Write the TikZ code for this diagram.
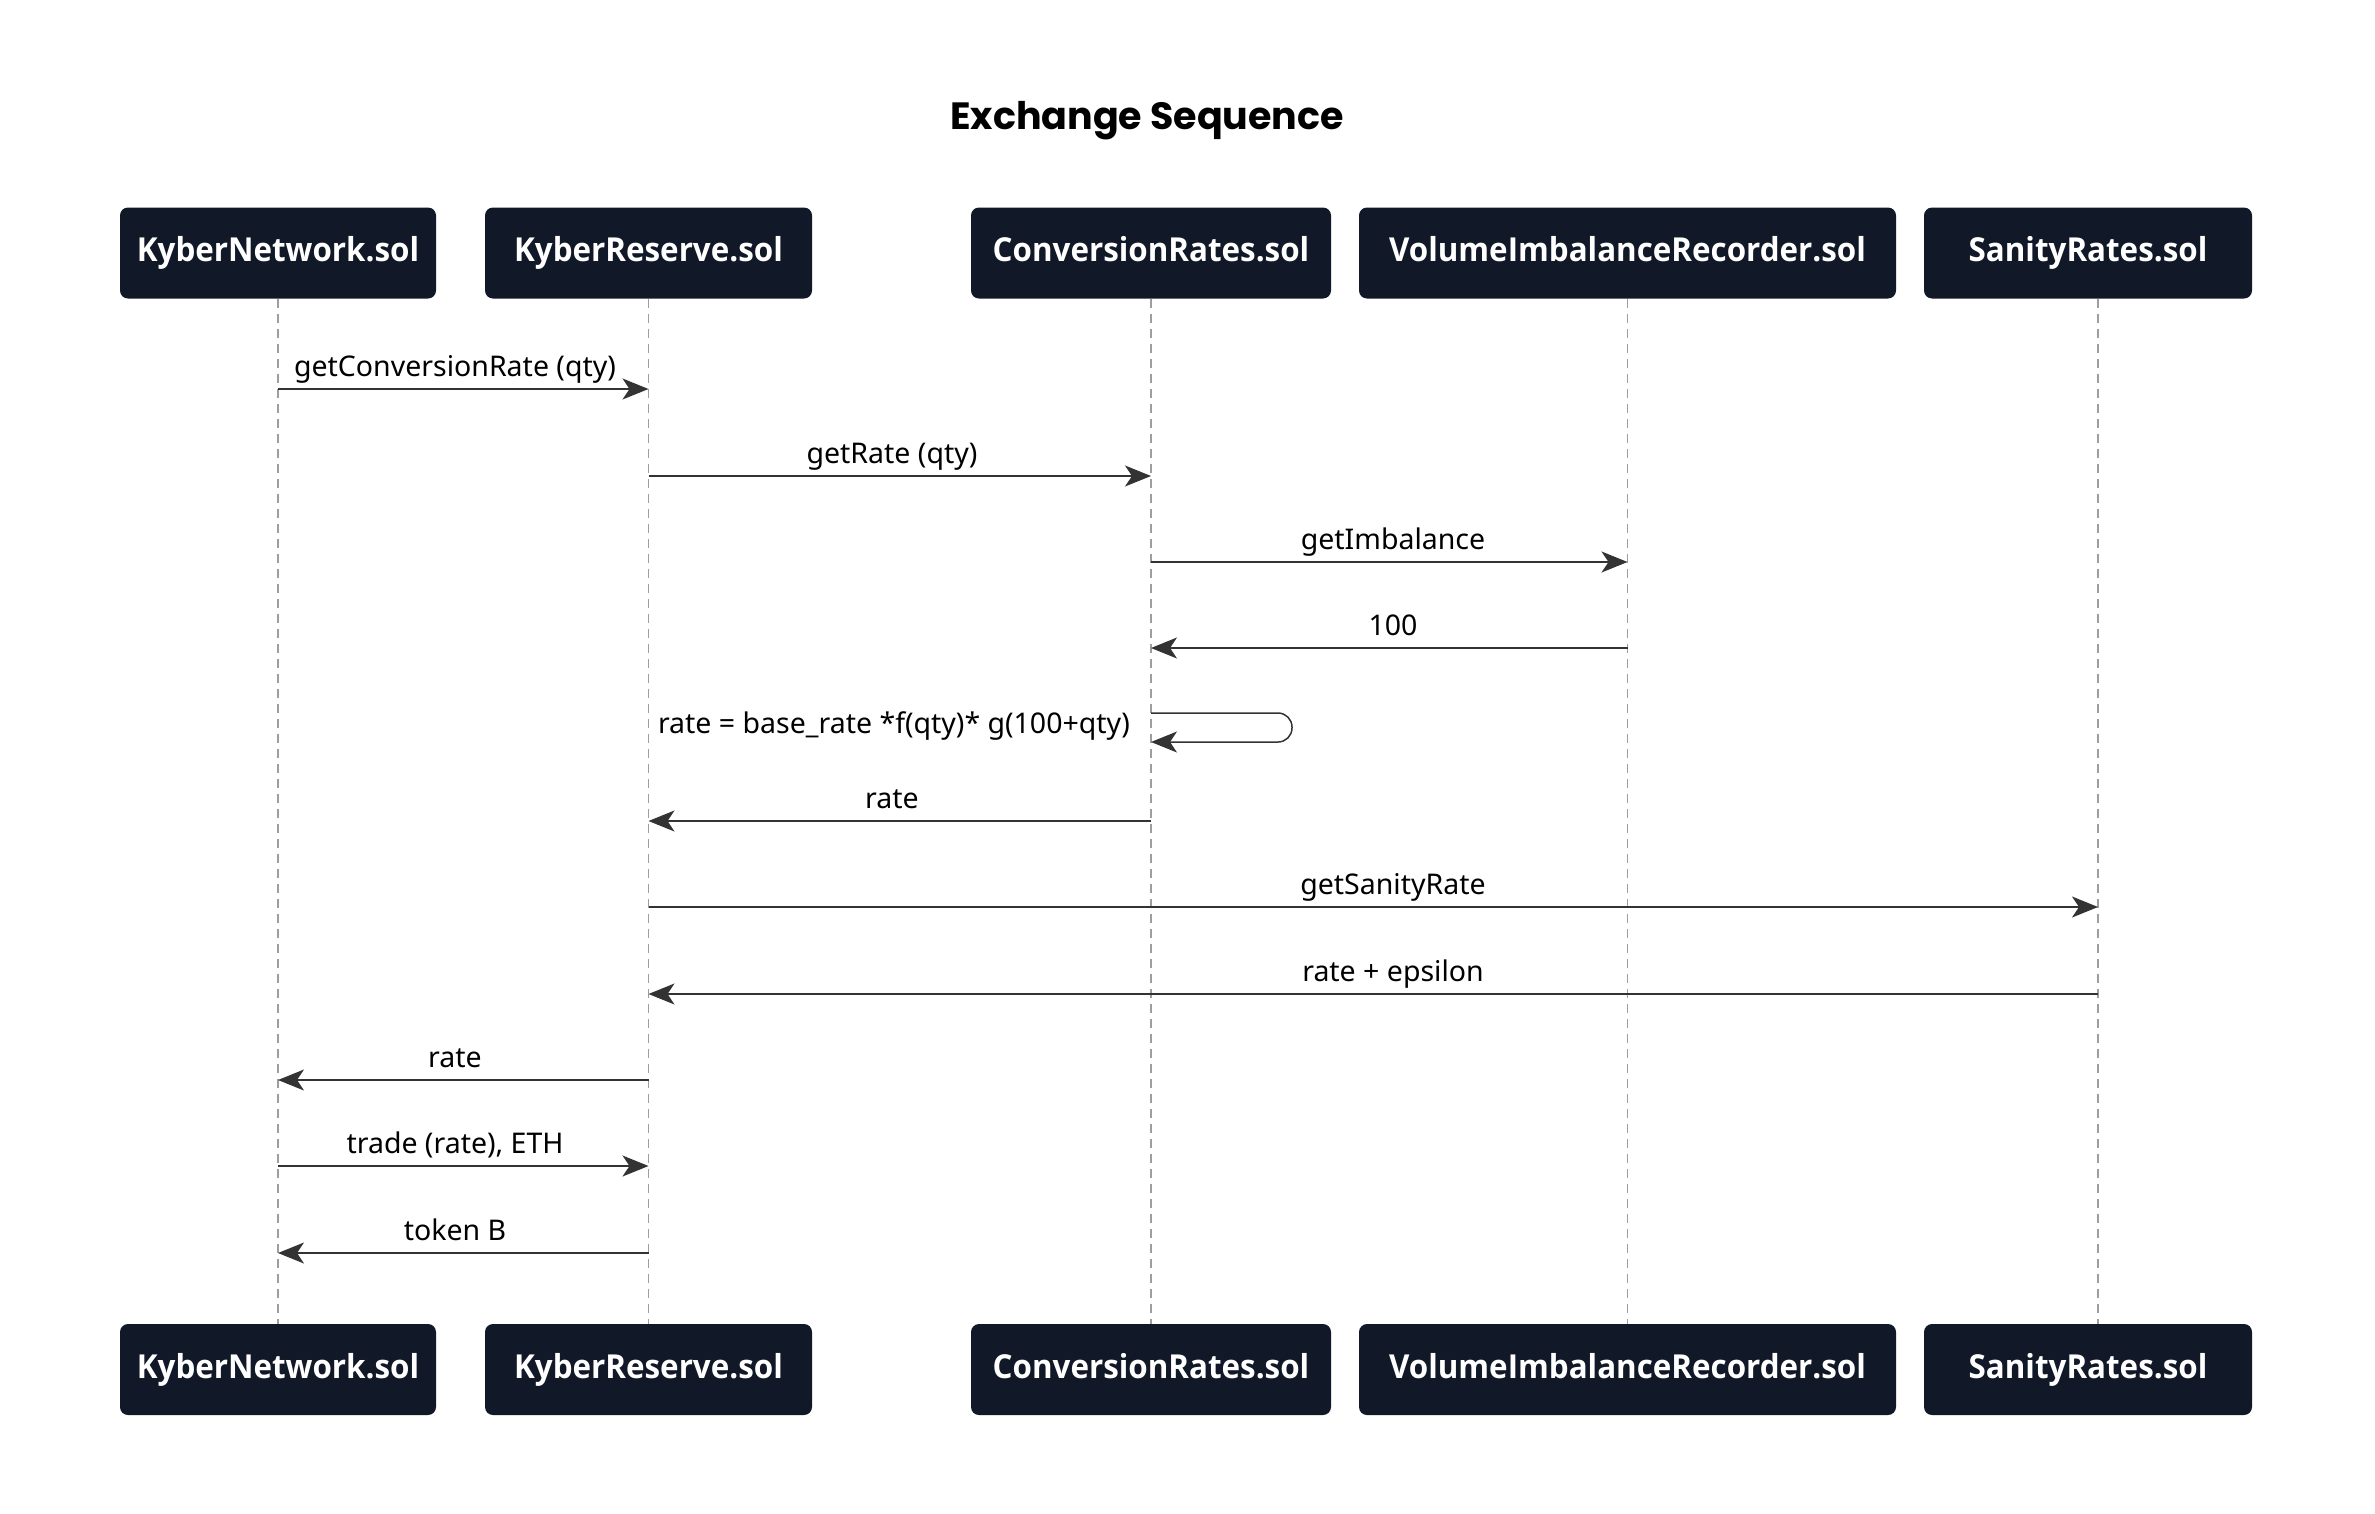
\documentclass[tikz,border=0pt]{standalone}
\usepackage{fontspec}
\setmainfont{Noto Sans}
\newfontfamily\titlefont{Poppins}
\newfontfamily\actorfont[FakeStretch=0.95]{Open Sans}
\usetikzlibrary{arrows.meta}
\definecolor{actorbg}{HTML}{111827}
\definecolor{msgline}{HTML}{333333}
\definecolor{lifegray}{HTML}{9E9E9E}

\begin{document}
\begin{tikzpicture}[x=1pt,y=-1pt]
    \tikzstyle{actor}=[rectangle, rounded corners=8pt, fill=actorbg, text=white, minimum height=91pt, inner sep=0pt, text height=24pt, text depth=7pt, font=\actorfont\bfseries\fontsize{33}{36}\selectfont]
    \tikzstyle{lifeline}=[draw=lifegray, line width=1.5pt, dash pattern=on 9pt off 6pt]
    \tikzstyle{msg}=[draw=msgline, line width=1.5pt, -{Stealth[length=26pt,width=21pt,inset=7pt]}]
    \tikzstyle{msglabel}=[anchor=base, inner sep=0pt, font=\fontsize{28.5}{32}\selectfont]
    \useasboundingbox (0,0) rectangle (2375,1513);
    \node (title) at (1147,121){\titlefont\bfseries\fontsize{38}{42}\selectfont Exchange Sequence};
    % participants, top row
    \node[actor, minimum width=316pt] (kn1) at (278,253){KyberNetwork.sol};
    \node[actor, minimum width=327pt] (kr1) at (648.5,253){KyberReserve.sol};
    \node[actor, minimum width=360pt] (cr1) at (1151,253){ConversionRates.sol};
    \node[actor, minimum width=537pt] (vir1) at (1627.5,253){VolumeImbalanceRecorder.sol};
    \node[actor, minimum width=328pt] (sr1) at (2088,253){SanityRates.sol};
    % participants, bottom row
    \node[actor, minimum width=316pt] (kn2) at (278,1369.5){KyberNetwork.sol};
    \node[actor, minimum width=327pt] (kr2) at (648.5,1369.5){KyberReserve.sol};
    \node[actor, minimum width=360pt] (cr2) at (1151,1369.5){ConversionRates.sol};
    \node[actor, minimum width=537pt] (vir2) at (1627.5,1369.5){VolumeImbalanceRecorder.sol};
    \node[actor, minimum width=328pt] (sr2) at (2088,1369.5){SanityRates.sol};
    \coordinate (srtop) at ([xshift=10pt]sr1.south);
    \coordinate (srbot) at ([xshift=10pt]sr2.north);
    \draw[lifeline] (kn1.south) -- (kn2.north);
    \draw[lifeline] (kr1.south) -- (kr2.north);
    \draw[lifeline] (cr1.south) -- (cr2.north);
    \draw[lifeline] (vir1.south) -- (vir2.north);
    \draw[lifeline] (srtop) -- (srbot);
    % messages
    \draw[msg] (kn1 |- 0,389) -- (kr1 |- 0,389);
    \node[msglabel] (m1) at (455,376){getConversionRate (qty)};
    \draw[msg] (kr1 |- 0,476) -- (cr1 |- 0,476);
    \node[msglabel] (m2) at (892,463){getRate (qty)};
    \draw[msg] (cr1 |- 0,562) -- (vir1 |- 0,562);
    \node[msglabel] (m3) at (1393,549){getImbalance};
    \draw[msg] (vir1 |- 0,648) -- (cr1 |- 0,648);
    \node[msglabel] (m4) at (1393,635){100};
    \draw[msg, rounded corners=14pt] (cr1 |- 0,713) -- (1292,713) -- (1292,742) -- (cr1 |- 0,742);
    \node[msglabel, anchor=base east] (m5) at (1130,733){rate = base\_rate *f(qty)* g(100+qty)};
    \draw[msg] (cr1 |- 0,821) -- (kr1 |- 0,821);
    \node[msglabel] (m6) at (892,808){rate};
    \draw[msg] (kr1 |- 0,907) -- (srtop |- 0,907);
    \node[msglabel] (m7) at (1393,894){getSanityRate};
    \draw[msg] (srtop |- 0,994) -- (kr1 |- 0,994);
    \node[msglabel] (m8) at (1393,981){rate + epsilon};
    \draw[msg] (kr1 |- 0,1080) -- (kn1 |- 0,1080);
    \node[msglabel] (m9) at (455,1067){rate};
    \draw[msg] (kn1 |- 0,1166) -- (kr1 |- 0,1166);
    \node[msglabel] (m10) at (455,1153){trade (rate), ETH};
    \draw[msg] (kr1 |- 0,1253) -- (kn1 |- 0,1253);
    \node[msglabel] (m11) at (455,1240){token B};
\end{tikzpicture}
\end{document}
